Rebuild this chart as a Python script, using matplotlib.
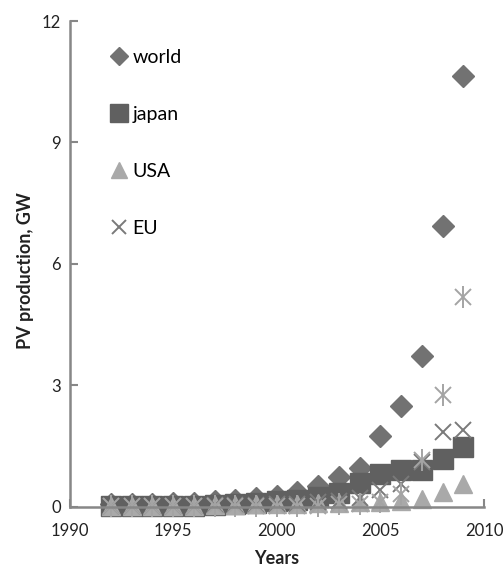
import matplotlib.pyplot as plt

plt.rcParams["font.family"] = ["Lato", "DejaVu Sans"]

years = list(range(1992, 2010))
world = [0.06, 0.06, 0.07, 0.08, 0.09, 0.13, 0.15, 0.2, 0.25, 0.35,
         0.5, 0.72, 0.95, 1.75, 2.48, 3.72, 6.93, 10.65]
japan = [0.02, 0.02, 0.02, 0.02, 0.02, 0.035, 0.05, 0.08, 0.13, 0.17,
         0.24, 0.33, 0.57, 0.81, 0.9, 0.9, 1.18, 1.48]
usa = [0.02, 0.02, 0.02, 0.02, 0.02, 0.03, 0.04, 0.05, 0.06, 0.07,
       0.08, 0.09, 0.11, 0.12, 0.14, 0.18, 0.37, 0.55]
eu = [0.01, 0.01, 0.02, 0.02, 0.02, 0.03, 0.03, 0.04, 0.05, 0.07,
      0.1, 0.14, 0.22, 0.41, 0.56, 1.1, 1.85, 1.9]
china = [0.01, 0.01, 0.01, 0.01, 0.01, 0.01, 0.01, 0.01, 0.01, 0.01,
         0.02, 0.05, 0.05, 0.12, 0.3, 1.15, 2.75, 5.17]

fig = plt.figure(figsize=(5.03, 5.67), dpi=100)
ax = fig.add_axes([69.5 / 503, 1 - 506.5 / 567, 414.5 / 503, 485.5 / 567])

ax.plot(years, world, ls="none", marker="D", ms=10.8, color="#727272",
        mec="#727272", label="world", clip_on=False)
ax.plot(years, japan, ls="none", marker="s", ms=14.8, color="#606060",
        mec="#606060", label="japan", clip_on=False)
ax.plot(years, usa, ls="none", marker="^", ms=13.5, color="#a9a9a9",
        mec="#a9a9a9", label="USA", clip_on=False)
ax.plot(years, eu, ls="none", marker="x", ms=12, mew=1.4, color="#7a7a7a",
        label="EU", clip_on=False)
# asterisk series (not in legend)
ax.plot(years, china, ls="none", marker="x", ms=12, mew=1.4, color="#a4a4a4",
        clip_on=False)
ax.plot(years, china, ls="none", marker="|", ms=16, mew=1.4, color="#a4a4a4",
        clip_on=False)

ax.set_xlim(1990, 2010)
ax.set_ylim(0, 12)
ax.set_xticks([1990, 1995, 2000, 2005, 2010])
ax.set_yticks([0, 3, 6, 9, 12])

for s in ["top", "right"]:
    ax.spines[s].set_visible(False)
for s in ["left", "bottom"]:
    ax.spines[s].set_color("#878787")
    ax.spines[s].set_linewidth(1.8)

ax.tick_params(axis="both", direction="in", length=6, width=1.5,
               color="#878787", labelsize=12, labelcolor="#222222")
ax.tick_params(axis="y", pad=6)
ax.tick_params(axis="x", pad=12)

fig.text(277 / 503, 1 - 558 / 567, "Years", ha="center", va="center",
         fontsize=13, fontweight="bold", color="#222222")
fig.text(26 / 503, 1 - 271 / 567, "PV production, GW", ha="center",
         va="center", rotation=90, fontsize=13, fontweight="bold",
         color="#222222")

ax.legend(loc="upper left", bbox_to_anchor=(111 / 503, 1 - 49 / 567),
          bbox_transform=fig.transFigure, frameon=False, fontsize=14,
          labelspacing=2.05, handlelength=0.8, handletextpad=0.3,
          borderaxespad=0, borderpad=0, markerscale=0.85)

fig.savefig("out.png", dpi=100)
